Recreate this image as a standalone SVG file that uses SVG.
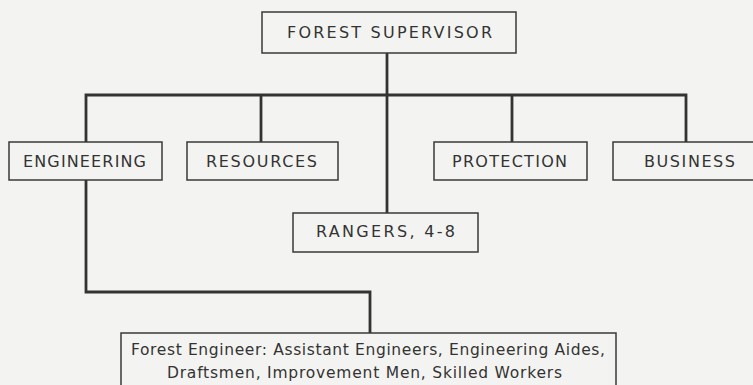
<svg xmlns="http://www.w3.org/2000/svg" width="753" height="385" viewBox="0 0 753 385">
<style>
.box{fill:none;stroke:#3a3a3a;stroke-width:1.5}
.lbl{font-family:"DejaVu Sans","Liberation Sans",sans-serif;font-size:16px;fill:#333}
.sm{font-size:15.5px}
.con{fill:none;stroke:#333;stroke-width:2.8;stroke-linejoin:miter}
</style>
<rect x="0" y="0" width="753" height="385" fill="#f3f3f1"/>
<g id="connectors">
<path class="con" d="M387 53 V213"/>
<path class="con" d="M86 142 V95 H686 V142"/>
<path class="con" d="M261 95 V142"/>
<path class="con" d="M512 95 V142"/>
<path class="con" d="M86 180 V292 H370 V333"/>
</g>
<g id="supervisor">
<rect class="box" x="262" y="12" width="254" height="41"/>
<text class="lbl" x="287" y="38" textLength="205" lengthAdjust="spacing">FOREST  SUPERVISOR</text>
</g>
<g id="engineering">
<rect class="box" x="9" y="142" width="153" height="38"/>
<text class="lbl" x="23" y="167" textLength="123" lengthAdjust="spacing">ENGINEERING</text>
</g>
<g id="resources">
<rect class="box" x="187" y="142" width="151" height="38"/>
<text class="lbl" x="206" y="167" textLength="111" lengthAdjust="spacing">RESOURCES</text>
</g>
<g id="protection">
<rect class="box" x="434" y="142" width="153" height="38"/>
<text class="lbl" x="452" y="167" textLength="115" lengthAdjust="spacing">PROTECTION</text>
</g>
<g id="business">
<rect class="box" x="613" y="142" width="145" height="38"/>
<text class="lbl" x="644" y="167" textLength="91" lengthAdjust="spacing">BUSINESS</text>
</g>
<g id="rangers">
<rect class="box" x="293" y="213" width="185" height="39"/>
<text class="lbl" x="316" y="237" textLength="139" lengthAdjust="spacing">RANGERS, 4-8</text>
</g>
<g id="forest-engineer">
<rect class="box" x="121" y="333" width="495" height="60"/>
<text class="lbl sm" x="131" y="355" textLength="474" lengthAdjust="spacing">Forest Engineer: Assistant Engineers, Engineering Aides,</text>
<text class="lbl sm" x="167" y="378" textLength="395" lengthAdjust="spacing">Draftsmen, Improvement Men, Skilled Workers</text>
</g>
</svg>
